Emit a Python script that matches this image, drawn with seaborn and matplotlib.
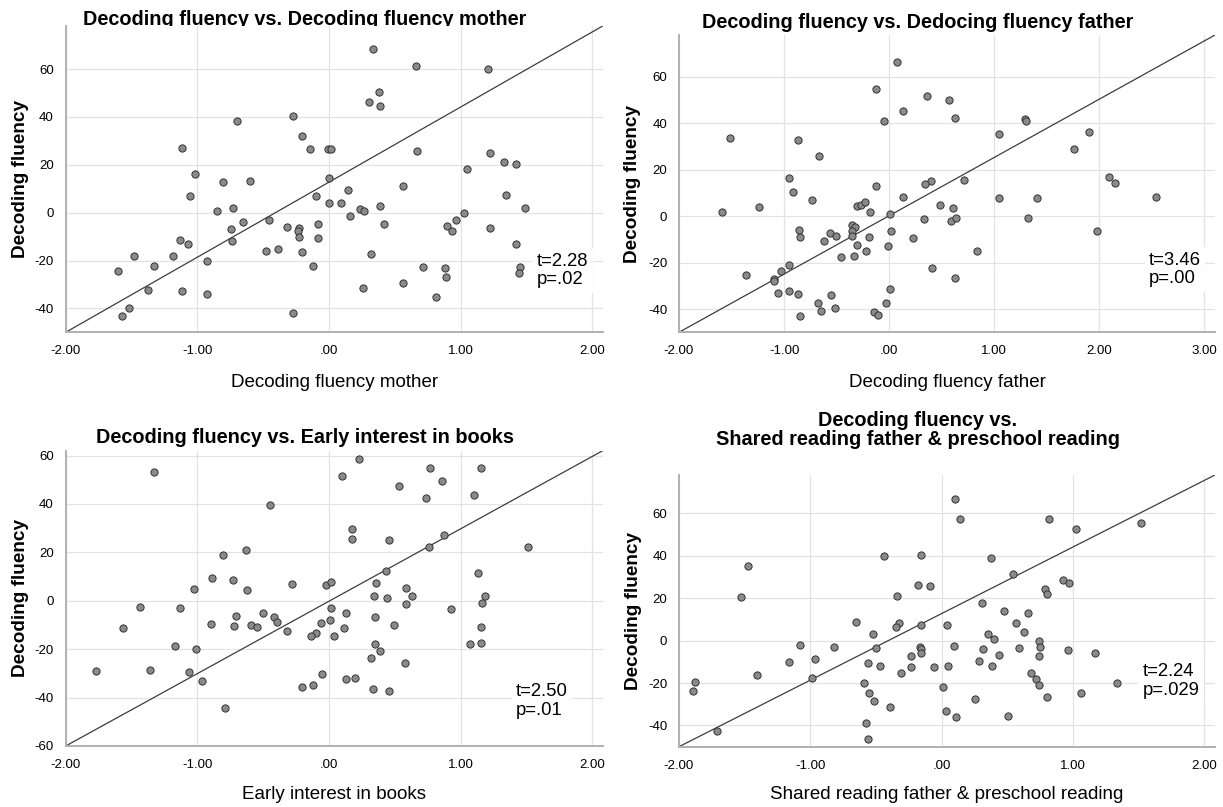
import matplotlib
matplotlib.use('Agg')
import matplotlib.pyplot as plt
import pandas as pd
import seaborn as sns

W, H = 1223, 807

# ---- panel 1: decoding fluency vs. decoding fluency mother
mother_x = [0.338, 0.664, 1.209, 0.377, 0.302, 0.391, -0.270, -0.699, -0.201, -1.117,
            -0.145, -0.006, 0.015, 0.670, 1.224, 1.330, 1.419, -1.021, 1.049, 0.003,
            -0.803, -0.596, 0.563, 0.142, -1.053, -0.095, 1.345, -0.003, 0.089, -0.847,
            -0.732, 0.234, 0.264, 0.385, 1.025, 1.490, 0.163, 0.969, -0.459, -0.652,
            -0.080, 0.418, 0.898, 1.224, -0.747, -0.317, -0.225, -0.237, 0.933, -0.225,
            -0.086, -1.129, -0.735, -1.070, 1.422, -0.477, -0.385, -0.201, 0.317, -1.484,
            -1.188, -0.924, -1.327, -0.119, 0.711, 0.880, 1.452, -1.606, 1.446, 0.892,
            0.261, 0.566, -1.372, -1.117, -0.927, 0.812, -1.520, -1.570, -0.270]
mother_y = [68.3, 61.4, 59.9, 50.5, 46.1, 44.4, 40.5, 38.4, 32.0, 27.2,
            26.8, 26.8, 26.8, 25.8, 24.8, 21.2, 20.5, 16.0, 18.1, 14.5,
            13.0, 13.3, 11.1, 9.6, 7.0, 7.0, 7.4, 3.9, 4.1, 0.8,
            2.1, 1.4, 0.7, 2.6, 0.0, 2.1, -1.4, -3.1, -3.2, -4.0,
            -4.6, -4.6, -5.6, -6.3, -6.8, -6.1, -6.3, -7.5, -7.8, -10.1,
            -10.8, -11.5, -12.0, -13.0, -13.3, -16.1, -15.2, -16.4, -17.1, -18.2,
            -18.2, -20.3, -22.2, -22.1, -22.6, -23.0, -22.6, -24.4, -25.4, -26.8,
            -31.5, -29.2, -32.2, -32.9, -33.9, -35.1, -39.7, -43.3, -41.8]

# ---- panel 2: decoding fluency vs. decoding fluency father
father_x = [0.071, -0.123, 0.357, 0.570, 0.130, 0.625, 1.292, 1.299, -0.045, -1.512,
            -0.864, 1.042, 1.902, 1.754, -0.666, -0.949, 0.711, 0.402, 0.339, 2.092,
            2.144, -0.123, -0.916, -0.737, 0.127, 1.046, 1.404, 2.539, -1.243, -1.593,
            -0.305, -0.268, -0.231, -0.182, 0.007, 0.480, 0.611, 0.328, 0.592, 0.637,
            1.322, -0.357, -0.324, -0.350, -0.350, -0.856, -0.845, -0.562, -0.510, -0.618,
            -0.194, 0.015, 0.231, -0.309, -0.011, -0.223, -0.458, -0.331, 0.834, -0.949,
            -1.363, -1.028, -1.098, -1.095, 0.406, 0.622, -1.057, -0.949, -0.871, -0.554,
            0.007, -0.681, -0.648, -0.514, -0.034, -0.149, -0.108, -0.853, 1.981]
father_y = [66.5, 54.9, 51.6, 49.9, 45.1, 42.4, 42.0, 40.8, 40.8, 33.8,
            33.0, 35.2, 36.1, 28.8, 26.1, 16.3, 15.5, 15.3, 13.8, 17.0,
            14.2, 13.0, 10.6, 6.9, 8.2, 7.9, 7.7, 8.3, 4.0, 1.6,
            4.2, 5.0, 6.0, 2.0, 1.0, 4.9, 3.6, -1.3, -2.1, -0.9,
            -0.6, -4.0, -4.6, -6.4, -8.6, -6.0, -9.0, -7.4, -8.7, -10.9,
            -9.0, -6.4, -9.6, -12.6, -12.8, -14.9, -17.6, -17.0, -15.2, -20.9,
            -25.2, -23.4, -27.1, -27.8, -22.5, -26.8, -33.0, -32.4, -33.7, -34.1,
            -31.4, -37.2, -40.7, -39.5, -37.2, -41.4, -42.7, -43.0, -6.3]

# ---- panel 3: decoding fluency vs. early interest in books
books_x = [0.231, -1.327, 0.098, 0.770, 1.159, 0.862, 0.536, 0.738, 1.099, -0.444,
           0.178, 0.178, 0.459, 0.877, 0.761, 1.514, -0.631, -0.806, 0.433, 1.135,
           -0.889, -0.732, -0.284, -0.021, 0.018, 0.361, -1.024, -0.619, 0.587, 0.344,
           0.631, 1.182, 0.439, 1.164, 0.584, -1.434, -1.132, 0.012, 0.930, -0.504,
           0.127, -0.708, -0.418, 0.347, -0.391, 0.006, -0.062, -0.898, -0.723, -0.593,
           -0.548, 0.495, 0.113, 1.156, -1.567, -0.317, -0.101, -0.139, 0.041, 0.350,
           0.385, 1.070, 1.153, -1.167, -1.013, 0.323, 0.575, -1.772, -1.360, -1.064,
           -0.963, -0.050, 0.127, 0.199, -0.207, -0.121, 0.338, 0.459, -0.788]
books_y = [58.5, 53.3, 51.5, 55.0, 54.7, 49.6, 47.5, 42.6, 43.8, 39.5,
           29.5, 25.5, 25.1, 27.3, 22.2, 22.2, 20.8, 19.1, 12.5, 11.6,
           9.4, 8.4, 6.9, 6.6, 7.6, 7.3, 4.8, 4.3, 5.2, 1.9,
           1.9, 1.9, 1.0, -1.1, -1.2, -2.5, -3.0, -3.0, -3.3, -5.1,
           -5.2, -6.3, -6.5, -6.9, -8.7, -7.9, -9.1, -9.6, -10.3, -10.2,
           -11.0, -10.2, -11.3, -10.9, -11.4, -12.3, -13.5, -14.6, -14.5, -18.0,
           -20.7, -17.9, -17.4, -18.7, -20.0, -23.8, -25.9, -29.2, -28.5, -29.6,
           -33.2, -30.3, -32.4, -31.7, -35.8, -34.7, -36.6, -37.2, -44.2]

# ---- panel 4: decoding fluency vs. shared reading father & preschool reading
shared_x = [0.104, 0.137, 0.813, 1.519, 1.019, -0.441, -0.155, 0.375, -1.473, 0.539,
            0.920, 0.968, -0.179, -0.086, 0.786, 0.801, -1.526, -0.337, 0.310, 0.471,
            0.655, -0.655, -0.322, -0.348, -0.155, 0.039, 0.563, 0.625, -0.524, 0.351,
            0.399, 0.742, -1.080, -0.819, -0.503, -0.164, -0.155, -0.155, 0.095, 0.316,
            0.587, 0.748, 0.962, 1.165, -0.235, 0.438, 0.742, -0.968, -1.162, -0.560,
            -0.471, -0.232, -0.057, 0.045, 0.280, 0.381, -1.409, -0.313, 0.682, 0.718,
            0.742, -0.986, -1.875, -1.890, -0.590, 0.006, -0.554, 0.801, 1.063, 1.333,
            -0.515, 0.253, -0.393, 0.030, 0.110, 0.506, -1.713, -0.578, -0.563]
shared_y = [66.6, 57.4, 57.4, 55.3, 52.4, 39.8, 40.1, 38.7, 35.1, 31.3,
            28.4, 27.1, 26.2, 25.9, 24.5, 21.8, 20.5, 21.0, 17.6, 13.9,
            13.2, 8.8, 8.3, 6.6, 7.1, 7.1, 8.2, 4.2, 3.3, 3.3,
            0.8, -0.2, -1.9, -3.0, -3.4, -2.8, -4.2, -6.0, -2.4, -4.2,
            -3.6, -3.1, -4.4, -5.8, -7.1, -6.9, -7.1, -8.6, -10.2, -10.5,
            -11.9, -12.4, -12.5, -12.2, -9.7, -11.8, -16.0, -15.2, -15.5, -18.2,
            -20.7, -17.6, -19.6, -23.8, -20.1, -21.8, -24.5, -26.8, -24.5, -20.1,
            -28.7, -27.7, -31.5, -33.4, -35.9, -35.6, -42.6, -38.7, -46.4]

titles = ['Decoding fluency vs. Decoding fluency mother',
          'Decoding fluency vs. Dedocing fluency father',
          'Decoding fluency vs. Early interest in books',
          'Decoding fluency vs.\nShared reading father & preschool reading']
xlabels = ['Decoding fluency mother', 'Decoding fluency father',
           'Early interest in books', 'Shared reading father & preschool reading']
stats = ['t=2.28\np=.02', 't=3.46\np=.00', 't=2.50\np=.01', 't=2.24\np=.029']

x_ticks = [[-2, -1, 0, 1, 2], [-2, -1, 0, 1, 2, 3], [-2, -1, 0, 1, 2], [-2, -1, 0, 1, 2]]
x_ticklabels = [['-2.00', '-1.00', '.00', '1.00', '2.00'],
                ['-2.00', '-1.00', '.00', '1.00', '2.00', '3.00'],
                ['-2.00', '-1.00', '.00', '1.00', '2.00'],
                ['-2.00', '-1.00', '.00', '1.00', '2.00']]
y_ticks = [[-40, -20, 0, 20, 40, 60], [-40, -20, 0, 20, 40, 60],
           [-60, -40, -20, 0, 20, 40, 60], [-40, -20, 0, 20, 40, 60]]
x_lims = [(-2, 2.08), (-2, 3.10), (-2, 2.08), (-2, 2.08)]
y_lims = [(-50, 78), (-50, 78), (-60, 62), (-50, 78)]

xs = [mother_x, father_x, books_x, shared_x]
ys = [mother_y, father_y, books_y, shared_y]

# layout in pixels: left, right, top, bottom of plot area
boxes = [(65.7, 602.7, 26, 332.3), (679, 1215, 35, 332.3),
         (65.7, 602.7, 450.7, 746), (679, 1215, 475, 746.7)]
title_base = [25, 28.3, 442.7, 445]
xlabel_base = [386.7, 386.7, 799, 799]
ylabel_x = [20.5, 632.5, 20.5, 633.5]
stat_pos = [(537, 284.3), (1149, 283.3), (516, 715), (1142.5, 695)]

sns.set_theme(style='white')
plt.rcParams['font.family'] = ['Liberation Sans', 'DejaVu Sans']
plt.rcParams['text.color'] = 'black'
plt.rcParams['axes.labelcolor'] = 'black'
narrow = ['Liberation Sans Narrow', 'Liberation Sans', 'DejaVu Sans']

fig = plt.figure(figsize=(W / 100, H / 100), dpi=100)

for i in range(4):
    l, r, t, b = boxes[i]
    ax = fig.add_axes([l / W, 1 - b / H, (r - l) / W, (b - t) / H])
    df = pd.DataFrame({'x': xs[i], 'y': ys[i]})
    sns.scatterplot(data=df, x='x', y='y', ax=ax, s=27, color='#8a8a8a',
                    edgecolor='#333333', linewidth=0.7, zorder=3)
    # reference line across the plot area
    ax.plot([x_lims[i][0], x_lims[i][1]], [y_lims[i][0], y_lims[i][1]],
            color='#3d3d3d', lw=0.9, zorder=2)
    ax.set_xlim(x_lims[i])
    ax.set_ylim(y_lims[i])
    ax.set_xticks(x_ticks[i])
    ax.set_xticklabels(x_ticklabels[i])
    ax.set_yticks(y_ticks[i])
    ax.set_yticklabels([str(v) for v in y_ticks[i]])
    ax.grid(True, color='#e3e3e3', lw=0.9)
    ax.set_axisbelow(True)
    for side in ['top', 'right']:
        ax.spines[side].set_visible(False)
    for side in ['left', 'bottom']:
        ax.spines[side].set_color('#b0b0b0')
        ax.spines[side].set_linewidth(1.4)
    ax.tick_params(axis='both', length=5, width=0.9, color='#d2d2d2',
                   labelsize=9.5, labelcolor='black')
    ax.tick_params(axis='x', pad=4.5)
    ax.tick_params(axis='y', pad=3.5)
    for lab in ax.get_xticklabels() + ax.get_yticklabels():
        lab.set_family(narrow)
    ax.set_xlabel('')
    ax.set_ylabel('')

    cx = l + 0.445 * (r - l)
    fig.text(cx / W, 1 - title_base[i] / H, titles[i], ha='center', va='baseline',
             fontsize=14.3, fontweight='bold', linespacing=1.03, zorder=-1)
    fig.text((l + r) / 2 / W, 1 - xlabel_base[i] / H, xlabels[i], ha='center',
             va='baseline', fontsize=13.5)
    fig.text(ylabel_x[i] / W, 1 - (t + b) / 2 / H, 'Decoding fluency', rotation=90,
             ha='center', va='center', fontsize=13.7, fontweight='bold')
    sx, sy = stat_pos[i]
    fig.text(sx / W, 1 - sy / H, stats[i], ha='left', va='baseline', fontsize=13.3,
             linespacing=1.13,
             bbox=dict(facecolor='white', edgecolor='none', pad=3))

fig.savefig('out.png', dpi=100)
